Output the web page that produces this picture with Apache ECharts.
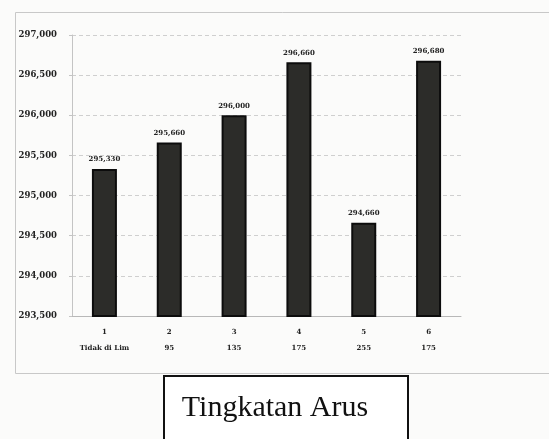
<!DOCTYPE html>
<html>
<head>
<meta charset="utf-8">
<script src="https://cdn.jsdelivr.net/npm/echarts@6/dist/echarts.min.js"></script>
<style>
  html, body { margin: 0; padding: 0; background: #fbfbfa; }
  #chart { width: 549px; height: 439px; }
</style>
</head>
<body>
<div id="chart"></div>
<script>
// Current levels (rows 1 and 2 of each category label)
const levelNumbers = ['1', '2', '3', '4', '5', '6'];
const levelNames = ['Tidak di Lim', '95', '135', '175', '255', '175'];
// Measured values
const values = [295330, 295660, 296000, 296660, 294660, 296680];
// Value axis range
const yMin = 293500;
const yMax = 297000;
const yStep = 500;

const categories = levelNumbers.map((n, i) => n + '\n' + levelNames[i]);
const fmt = v => v.toLocaleString('en-US');
const labelFont = 'DejaVu Serif';

const chart = echarts.init(document.getElementById('chart'), null, { renderer: 'canvas' });
chart.setOption({
  backgroundColor: '#fbfbfa',
  animation: false,
  grid: { left: 72, top: 35, width: 389, height: 281 },
  xAxis: {
    type: 'category',
    data: categories,
    axisLine: { lineStyle: { color: '#b8b8b8', width: 1 } },
    axisTick: { show: false },
    axisLabel: {
      color: '#222',
      fontFamily: labelFont,
      fontWeight: 'bold',
      fontSize: 7,
      lineHeight: 16,
      margin: 8,
      interval: 0
    }
  },
  yAxis: {
    type: 'value',
    min: yMin,
    max: yMax,
    interval: yStep,
    axisLine: { show: true, lineStyle: { color: '#c4c4c4', width: 1 } },
    axisTick: { show: true, length: 3, lineStyle: { color: '#c4c4c4' } },
    splitLine: { lineStyle: { color: '#cfcfcf', type: [4, 3], width: 1 } },
    axisLabel: {
      color: '#222',
      fontFamily: labelFont,
      fontWeight: 'bold',
      fontSize: 8.5,
      margin: 15,
      formatter: v => fmt(v)
    }
  },
  series: [{
    type: 'bar',
    data: values,
    barWidth: 25,
    itemStyle: { color: '#2c2c29', borderColor: '#0c0c0c', borderWidth: 2 },
    label: {
      show: true,
      position: 'top',
      distance: 6,
      color: '#222',
      fontFamily: labelFont,
      fontWeight: 'bold',
      fontSize: 7,
      formatter: p => fmt(p.value)
    }
  }],
  graphic: [
    {
      type: 'rect',
      shape: { x: 15.5, y: 12.5, width: 560, height: 361 },
      style: { fill: 'none', stroke: '#c8c8c8', lineWidth: 1 },
      silent: true
    },
    {
      type: 'rect',
      shape: { x: 164, y: 376, width: 244, height: 80 },
      style: { fill: '#ffffff', stroke: '#111', lineWidth: 2 },
      silent: true
    },
    {
      type: 'text',
      x: 275,
      y: 408,
      style: {
        text: 'Tingkatan Arus',
        fill: '#111',
        font: '30px "Liberation Serif"',
        textAlign: 'center',
        textVerticalAlign: 'middle'
      },
      silent: true
    }
  ]
});
</script>
</body>
</html>
